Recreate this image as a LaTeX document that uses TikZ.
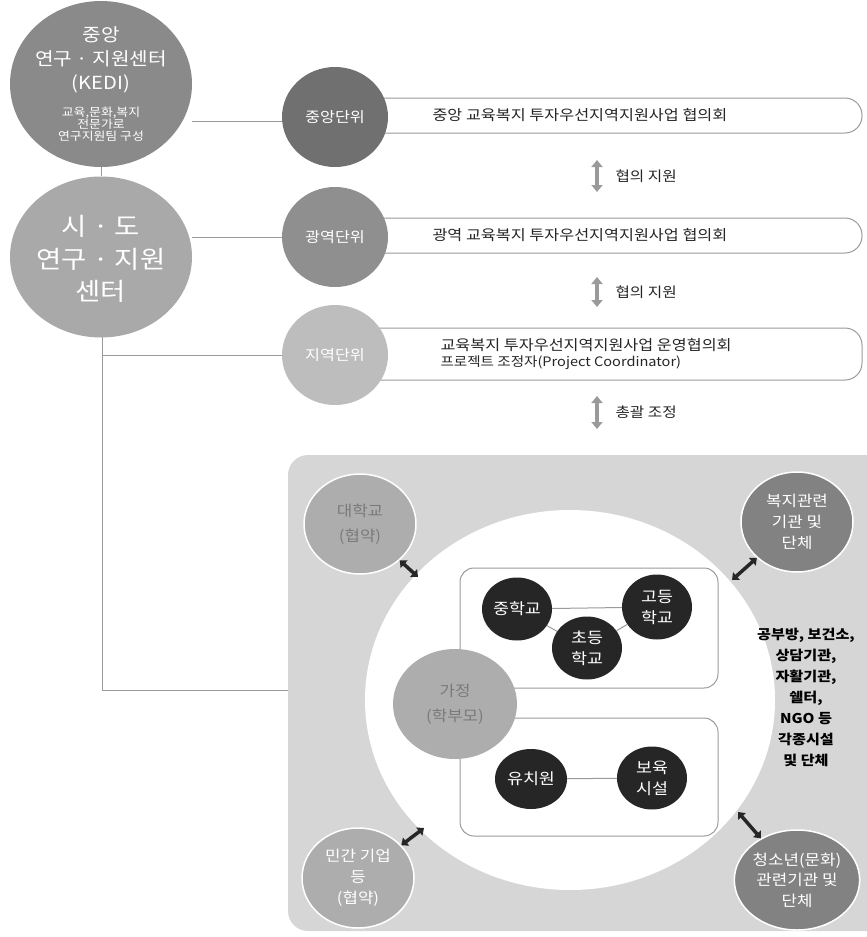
\documentclass[tikz,border=0pt]{standalone}
\usepackage{fontspec}
\setmainfont{Noto Sans CJK KR}[FakeStretch=1.12]
\usetikzlibrary{arrows.meta,shapes.geometric}
\definecolor{cKedi}{HTML}{8A8A8A}
\definecolor{cSido}{HTML}{A9A9A9}
\definecolor{cU1}{HTML}{707070}
\definecolor{cU2}{HTML}{8F8F8F}
\definecolor{cU3}{HTML}{BDBDBD}
\definecolor{cLine}{HTML}{9A9A9A}
\definecolor{cPanel}{HTML}{D6D6D6}
\definecolor{cBlack}{HTML}{262626}
\definecolor{cLight}{HTML}{ADADAD}
\definecolor{cMid}{HTML}{828282}
\definecolor{cTxt}{HTML}{7A7A7A}
\tikzset{
  ell/.style={ellipse,inner sep=0pt,align=center},
  unitc/.style={ell,minimum width=106pt,minimum height=100pt,text=white,font=\fontsize{14.5}{18}\selectfont},
  bar/.style={draw=cLine,line width=1pt,fill=white,rounded corners=17pt},
  bartext/.style={anchor=west,font=\fontsize{14.5}{18}\selectfont,align=left,text=black!85},
  conn/.style={draw=cLine,line width=0.9pt},
  garrow/.style={draw=cLine,line width=4pt,{Triangle[length=7pt,width=11pt]}-{Triangle[length=7pt,width=11pt]}},
  barrow/.style={draw=cBlack,line width=3.5pt,{Triangle[length=6pt,width=10pt]}-{Triangle[length=6pt,width=10pt]}},
  blk/.style={ell,fill=cBlack,minimum width=70pt,minimum height=63pt,text=white,font=\fontsize{15.5}{21}\selectfont},
  outc/.style={ell,draw=white,line width=1.5pt,minimum width=112pt,minimum height=100pt,font=\fontsize{15}{21}\selectfont},
  innerbox/.style={draw=cLine,line width=1pt,fill=white,rounded corners=14pt},
  lbl/.style={anchor=west,font=\fontsize{14}{17}\selectfont,text=black!85},
  tline/.style={draw=cLine,line width=1pt},
}
\begin{document}
\begin{tikzpicture}[x=1pt,y=-1pt]
\useasboundingbox (0,0) rectangle (867,937);
% left trunk line
\coordinate (v1) at (102,330);
\coordinate (v2) at (102,690);
\coordinate (v3) at (102,355);
\coordinate (pl) at (290,690);
\draw[conn] (v1) -- (v2) -- (pl);
% bars
\draw[bar] (340,98) rectangle (862,133);
\draw[bar] (340,218) rectangle (862,253);
\draw[bar] (340,328) rectangle (862,380);
\node[bartext] (b1) at (429,115.5) {중앙 교육복지 투자우선지역지원사업 협의회};
\node[bartext] (b2) at (429,235.5) {광역 교육복지 투자우선지역지원사업 협의회};
\node[bartext] (b3) at (437,354.5) {교육복지 투자우선지역지원사업 운영협의회\\[-2pt]{\fontsize{13}{15}\selectfont 프로젝트 조정자(Project Coordinator)}};
% big left circles
\node[ell,fill=cKedi,minimum width=182pt,minimum height=166pt] (kedi) at (101,84) {};
\node[ell,fill=cSido,minimum width=182pt,minimum height=161pt] (sido) at (101,257) {};
\draw[conn] (kedi.south) -- (sido.north);
\node[align=center,text=white,font=\fontsize{18}{24}\selectfont] (kedit) at (101,60) {중앙\\연구 · 지원센터\\(KEDI)};
\node[align=center,text=white,font=\fontsize{11.5}{11.5}\selectfont] (kedis) at (101,124) {교육,문화,복지\\전문가로\\연구지원팀 구성};
\node[align=center,text=white,font=\fontsize{24.5}{32.5}\selectfont] (sidot) at (101,259) {시 · 도\\연구 · 지원\\센터};
% unit circles
\node[unitc,fill=cU1] (u1) at (335,117) {중앙단위};
\node[unitc,fill=cU2] (u2) at (335,237) {광역단위};
\node[unitc,fill=cU3] (u3) at (335,355) {지역단위};
\draw[conn] (kedi.east |- 0,121) -- (u1.west |- 0,121);
\draw[conn] (sido.east |- u2.west) -- (u2.west);
\draw[conn] (v3) -- (u3.west);
% vertical grey arrows
\coordinate (a1t) at (597,160); \coordinate (a1b) at (597,192);
\coordinate (a2t) at (597,277); \coordinate (a2b) at (597,307);
\coordinate (a3t) at (597,396); \coordinate (a3b) at (597,429);
\draw[garrow] (a1t) -- (a1b);
\draw[garrow] (a2t) -- (a2b);
\draw[garrow] (a3t) -- (a3b);
\node[lbl] (l1) at (612,176) {협의 지원};
\node[lbl] (l2) at (612,292) {협의 지원};
\node[lbl] (l3) at (612,412) {총괄 조정};
% panel
\fill[cPanel,rounded corners=20pt] (288,455) rectangle (900,931);
\fill[white] (570,700) ellipse [x radius=205, y radius=190];
% inner boxes
\draw[innerbox] (460,568) rectangle (718,688);
\draw[innerbox] (460,718) rectangle (718,836);
% black circles
\node[blk] (mid) at (517,609) {중학교};
\node[blk,minimum height=65pt] (high) at (657,607) {고등\\학교};
\node[blk] (elem) at (587,648) {초등\\학교};
\node[blk,minimum width=72pt,minimum height=60pt] (kind) at (531,779) {유치원};
\node[blk] (care) at (652,778) {보육\\시설};
\draw[tline] (mid) -- (high);
\draw[tline] (mid) -- (elem);
\draw[tline] (elem) -- (high);
\draw[tline] (kind) -- (care);
% home
\node[ell,fill=cLight,minimum width=124pt,minimum height=110pt,text=cTxt,font=\fontsize{15}{25}\selectfont] (home) at (455,704) {가정\\(학부모)};
% outer circles
\node[outc,fill=cLight,text=cTxt,font=\fontsize{15}{25}\selectfont] (univ) at (360,524) {대학교\\(협약)};
\node[outc,fill=cMid,text=white] (welf) at (797,522) {복지관련\\기관 및\\단체};
\node[outc,fill=cLight,text=white] (priv) at (358,878) {민간 기업\\등\\(협약)};
\node[outc,fill=cMid,text=white,font=\fontsize{15}{20.5}\selectfont] (youth) at (797,880) {청소년(문화)\\관련기관 및\\단체};
% black double arrows
\coordinate (d1) at (418,577);
\coordinate (d2) at (732,580);
\coordinate (d3) at (424,828);
\coordinate (d4) at (738,812);
\draw[barrow] (univ) -- (d1);
\draw[barrow] (welf) -- (d2);
\draw[barrow] (priv) -- (d3);
\draw[barrow] (youth) -- (d4);
% right text
\node[align=center,font=\bfseries\fontsize{13.5}{21}\selectfont] (rtext) at (806,697) {공부방, 보건소,\\상담기관,\\자활기관,\\쉘터,\\NGO 등\\각종시설\\및 단체};
\end{tikzpicture}
\end{document}
